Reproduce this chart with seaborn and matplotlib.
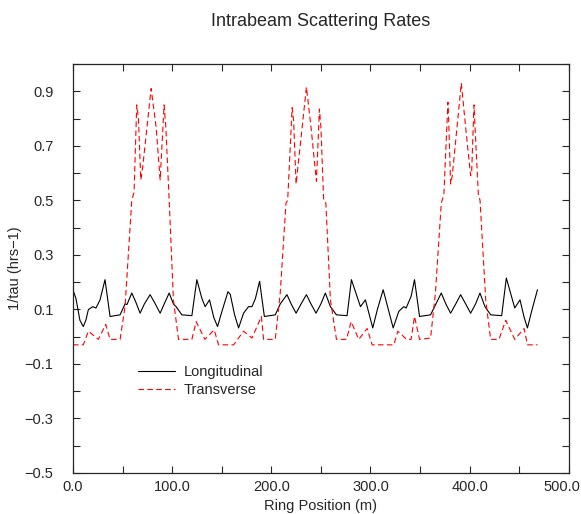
import matplotlib
matplotlib.use("Agg")
import matplotlib.pyplot as plt
import seaborn as sns
from matplotlib.ticker import MultipleLocator, FuncFormatter
from matplotlib.transforms import ScaledTranslation

# values
long_pos = [0, 3, 7, 10.4, 13, 15.5, 19.9, 23.2, 27.3, 32.3, 37.4, 47.5, 52.5, 54.5, 59.3, 63, 67.7,
            72, 77.8, 83, 87.9, 92, 97, 101.3, 104, 109.8, 119.9, 124.9, 130, 133.3, 137.7, 142,
            145.8, 150, 156.3, 158.6, 163, 167,
            172, 177, 180.5, 184, 188.2, 193, 204, 209, 215.8, 220, 225, 230, 235.4, 240, 245.1,
            250, 254.5, 259.6, 265.7, 276.4, 280.8, 289.9, 294.9, 302.3, 307, 312.8, 318, 322.9,
            328.6, 333.6, 336, 341, 344.4, 349.5, 360.6, 366, 371.4, 376, 380.8, 386, 390.9, 396,
            401, 406, 410.4, 415.5, 421.2, 432.3, 437, 445.5, 450.8, 455, 458.3, 463, 468.4]
long_rate = [0.172, 0.14, 0.06, 0.037, 0.06, 0.099, 0.11, 0.105, 0.135, 0.209, 0.074, 0.08, 0.12, 0.118,
             0.16, 0.13, 0.086, 0.12, 0.154, 0.12, 0.086, 0.12, 0.16, 0.12, 0.11, 0.08, 0.077, 0.209,
             0.14, 0.11, 0.135, 0.07, 0.037, 0.09, 0.165, 0.155, 0.08, 0.032,
             0.086, 0.11, 0.11, 0.14, 0.203, 0.074, 0.08, 0.12, 0.154, 0.12, 0.086, 0.12, 0.154, 0.12,
             0.086, 0.12, 0.16, 0.11, 0.08, 0.077, 0.209, 0.11, 0.135, 0.032, 0.1, 0.172, 0.1, 0.032,
             0.093, 0.11, 0.105, 0.148, 0.209, 0.074, 0.08, 0.12, 0.16, 0.12, 0.086, 0.12, 0.154, 0.12,
             0.086, 0.12, 0.16, 0.11, 0.08, 0.077, 0.215, 0.105, 0.135, 0.07, 0.032, 0.1, 0.172]

trans_pos = [0, 10.4, 15.5, 25.6, 33, 37.4, 47.5, 52.5, 59.3, 61.6, 64.3, 66, 68.4, 70.4, 78.8, 83.8,
             87.9, 91.9, 93.6, 97, 101.3, 106.4, 119.9, 124.2, 133, 142.4, 146.8,
             162, 172, 180.5, 190, 192.2, 204, 209, 214.8, 216.5, 221, 222.5, 225, 235.4, 240, 245.5,
             248.5, 250, 252.8, 255, 259.6, 265.7, 275.8, 280.5, 288.2, 296.6, 301.7, 323.5,
             327.6, 336.4, 341, 344.4, 349.5, 360.6, 365.5, 371.4, 374, 378.1, 379, 380.8, 382.5,
             391.6, 395.9, 401, 402, 404.4, 405.4, 408.8, 410.5, 416.2, 421.2, 429.6, 436.4, 445.5,
             454.9, 458.3, 468.4]
trans_rate = [-0.03, -0.03, 0.02, -0.01, 0.045, -0.01, -0.01, 0.11, 0.5, 0.53, 0.85, 0.8, 0.575, 0.625,
              0.91, 0.77, 0.575, 0.85, 0.77, 0.5, 0.135, -0.01, -0.01, 0.055, -0.01, 0.025, -0.03,
              -0.03, 0.02, -0.005, 0.074, -0.01, -0.01, 0.16, 0.49, 0.5, 0.84, 0.79, 0.56, 0.915, 0.77,
              0.57, 0.835, 0.77, 0.5, 0.49, 0.135, -0.01, -0.01, 0.055, -0.01, 0.03, -0.03, -0.03,
              0.02, -0.01, -0.01, 0.074, -0.01, -0.005, 0.16, 0.49, 0.52, 0.86, 0.78, 0.56, 0.59,
              0.93, 0.77, 0.59, 0.6, 0.85, 0.77, 0.52, 0.5, 0.135, -0.01, -0.01, 0.06, -0.01,
              0.03, -0.03, -0.03]

sns.set_style("ticks")
plt.rcParams['font.family'] = ['Liberation Sans', 'DejaVu Sans']

fig = plt.figure(figsize=(5.81, 5.14), dpi=100)
ax = fig.add_axes([0.1256, 0.0798, 0.8534, 0.7957])

sns.lineplot(x=long_pos, y=long_rate, ax=ax, color='black', lw=0.8,
             sort=False, estimator=None, label='Longitudinal')
sns.lineplot(x=trans_pos, y=trans_rate, ax=ax, color='red', lw=0.8,
             linestyle=(0, (5, 3)), sort=False, estimator=None, label='Transverse')

fmt = FuncFormatter(lambda v, p: ('%.1f' % v).replace('-', '\u2212'))
ax.set_xlim(0, 500)
ax.set_ylim(-0.5, 1.0)
ax.xaxis.set_major_locator(MultipleLocator(100))
ax.xaxis.set_minor_locator(MultipleLocator(50))
ax.xaxis.set_major_formatter(fmt)
ax.set_yticks([-0.5, -0.3, -0.1, 0.1, 0.3, 0.5, 0.7, 0.9])
ax.yaxis.set_minor_locator(MultipleLocator(0.1))
ax.yaxis.set_major_formatter(fmt)
ax.tick_params(which='both', direction='in', top=True, right=True, labelsize=10.5, width=0.8, length=5)
ax.tick_params(axis='y', pad=14)
ax.tick_params(axis='x', pad=5)
for s in ax.spines.values():
    s.set_linewidth(0.9)

ax.set_xlabel('Ring Position (m)', fontsize=10.5, labelpad=4)
ax.set_ylabel('1/tau (hrs\u22121)', fontsize=10.5, labelpad=2)
ax.set_title('Intrabeam Scattering Rates', fontsize=13, pad=27)

ax.legend(loc='upper left', bbox_to_anchor=(0.105, 0.295), frameon=False, fontsize=10.5,
          handlelength=2.5, handletextpad=0.6, labelspacing=0.25)

# the 500.0 label sits a little left so it stays inside the picture
fig.canvas.draw()
for t in ax.xaxis.get_major_ticks():
    if abs(t.get_loc() - 500) < 1e-6:
        t.label1.set_transform(t.label1.get_transform() + ScaledTranslation(-7 / 100, 0, fig.dpi_scale_trans))

fig.savefig('out.png', dpi=100)
